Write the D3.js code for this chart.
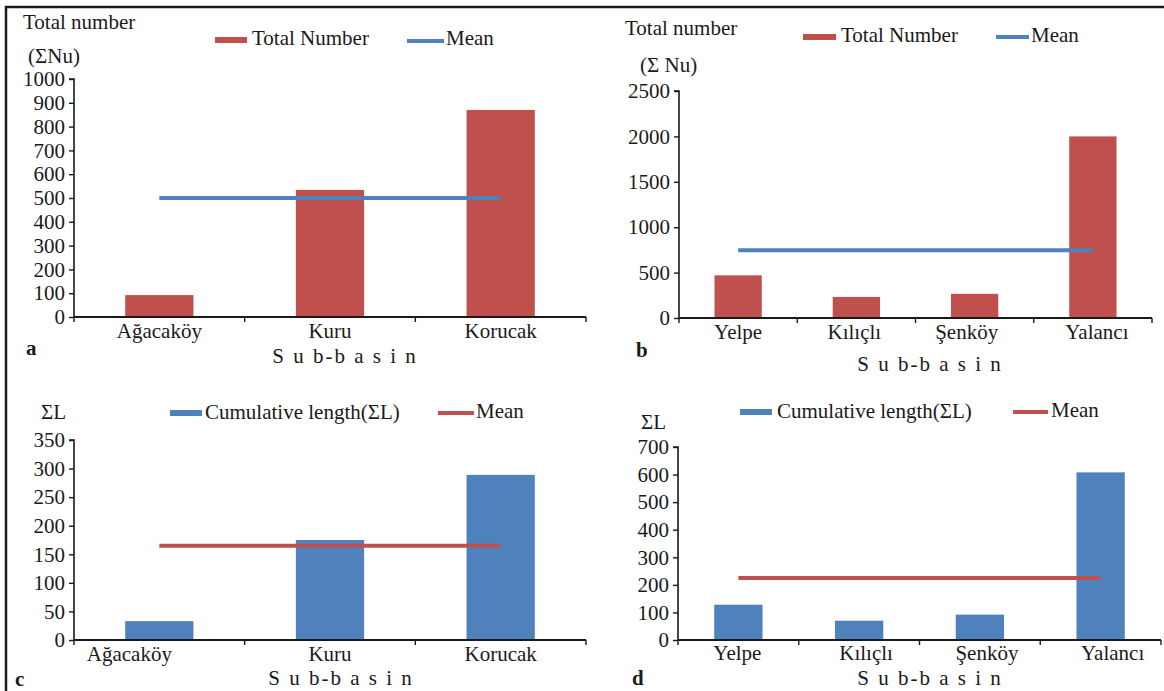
<!DOCTYPE html>
<html>
<head>
<meta charset="utf-8">
<script src="https://d3js.org/d3.v7.min.js"></script>
<style>
  body { margin: 0; background: #fff; }
  svg text { font-family: "Liberation Serif", serif; }
</style>
</head>
<body>
<div id="chart"></div>
<script>
// sub-basins
const basinsWest = ["Ağacaköy", "Kuru", "Korucak"];
const basinsEast = ["Yelpe", "Kılıçlı", "Şenköy", "Yalancı"];

// total number of streams (ΣNu) and mean
const totalNumberWest = [92, 534, 870];
const meanNumberWest = 500;
const totalNumberEast = [470, 232, 266, 2000];
const meanNumberEast = 745;

// cumulative length (ΣL) and mean
const lengthWest = [33, 175, 289];
const meanLengthWest = 165;
const lengthEast = [128, 70, 92, 608];
const meanLengthEast = 225;

// y tick labels
const ticksA = [0, 100, 200, 300, 400, 500, 600, 700, 800, 900, 1000];
const ticksB = [0, 500, 1000, 1500, 2000, 2500];
const ticksC = [0, 50, 100, 150, 200, 250, 300, 350];
const ticksD = [0, 100, 200, 300, 400, 500, 600, 700];

const W = 1164, H = 691;
const RED = "#C0504D", BLUE = "#4F81BD", INK = "#1a1a1a";
const FONT = "Liberation Serif";
const FS = 21;

const svg = d3.select("#chart").append("svg")
  .attr("width", W).attr("height", H)
  .attr("font-family", FONT);

// frame (top and left edges only, the rest is cropped)
svg.append("line").attr("x1", 5).attr("x2", W).attr("y1", 7).attr("y2", 7)
  .attr("stroke", INK).attr("stroke-width", 2.5);
svg.append("line").attr("x1", 6).attr("x2", 6).attr("y1", 6).attr("y2", H)
  .attr("stroke", INK).attr("stroke-width", 2.5);

const panels = [
  { cats: basinsWest, vals: totalNumberWest, mean: meanNumberWest, ticks: ticksA,
    x0: 74, x1: 586, yTop: 79, yBot: 317, bar: RED, line: BLUE,
    titles: [["Total number", 23, 29], ["(ΣNu)", 28, 63]],
    legend: { rect: [215, 247, 40], text: [252, 45, "Total Number"], line: [407, 444, 41], mean: [446, 45] },
    letter: ["a", 26, 355], sub: [345, 363], catY: 338, catShift: [0, 0, 0] },
  { cats: basinsEast, vals: totalNumberEast, mean: meanNumberEast, ticks: ticksB,
    x0: 679, x1: 1152, yTop: 91, yBot: 318, bar: RED, line: BLUE,
    titles: [["Total number", 625, 35], ["(Σ Nu)", 640, 72]],
    legend: { rect: [803, 836, 37], text: [841, 42, "Total Number"], line: [996, 1029, 37], mean: [1031, 42] },
    letter: ["b", 636, 357], sub: [930, 371], catY: 339, catShift: [0, -2, -8, 4] },
  { cats: basinsWest, vals: lengthWest, mean: meanLengthWest, ticks: ticksC,
    x0: 74, x1: 586, yTop: 440, yBot: 640, bar: BLUE, line: RED,
    titles: [["ΣL", 41, 419]],
    legend: { rect: [170, 202, 413], text: [205, 419, "Cumulative length(ΣL)"], line: [438, 474, 413], mean: [476, 418] },
    letter: ["c", 15, 686], sub: [341, 685], catY: 661, catShift: [-30, 0, 0] },
  { cats: basinsEast, vals: lengthEast, mean: meanLengthEast, ticks: ticksD,
    x0: 678, x1: 1161, yTop: 447, yBot: 640, bar: BLUE, line: RED,
    titles: [["ΣL", 641, 429]],
    legend: { rect: [740, 772, 412], text: [777, 418, "Cumulative length(ΣL)"], line: [1013, 1048, 412], mean: [1051, 417] },
    letter: ["d", 632, 685], sub: [930, 685], catY: 660, catShift: [-1, 7, 7, 12] }
];

panels.forEach(p => {
  const g = svg.append("g");

  const x = d3.scaleBand().domain(p.cats).range([p.x0, p.x1]).padding(0);
  const y = d3.scaleLinear().domain([0, d3.max(p.ticks)]).range([p.yBot, p.yTop]);
  const bw = x.bandwidth() * 0.4;

  // bars
  g.selectAll("rect.bar").data(p.cats).enter().append("rect")
    .attr("class", "bar")
    .attr("x", d => x(d) + (x.bandwidth() - bw) / 2)
    .attr("width", bw)
    .attr("y", (d, i) => y(p.vals[i]))
    .attr("height", (d, i) => y(0) - y(p.vals[i]))
    .attr("fill", p.bar);

  // mean line across category centres
  const meanLine = d3.line()
    .x(d => x(d) + x.bandwidth() / 2)
    .y(() => y(p.mean));
  g.append("path").datum(p.cats)
    .attr("d", meanLine)
    .attr("fill", "none")
    .attr("stroke", p.line)
    .attr("stroke-width", 4);

  // y axis
  const yAxis = g.append("g")
    .attr("transform", `translate(${p.x0},0)`)
    .call(d3.axisLeft(y).tickValues(p.ticks).tickSize(5).tickPadding(4).tickFormat(d3.format("d")));
  yAxis.attr("font-family", FONT).attr("font-size", FS);
  yAxis.select(".domain").attr("stroke", INK).attr("stroke-width", 1.6).attr("d", `M-5,${p.yTop}H0V${p.yBot}`);
  yAxis.selectAll(".tick line").attr("stroke", INK).attr("stroke-width", 1.4);
  yAxis.selectAll("text").attr("fill", INK);

  // x axis, ticks on category boundaries
  const xAxis = g.append("g").attr("transform", `translate(0,${p.yBot})`);
  xAxis.append("line").attr("x1", p.x0).attr("x2", p.x1)
    .attr("stroke", INK).attr("stroke-width", 1.8);
  const bounds = p.cats.map(d => x(d)).concat([x.range()[1]]);
  xAxis.selectAll("line.tick").data(bounds).enter().append("line")
    .attr("class", "tick")
    .attr("x1", d => d).attr("x2", d => d)
    .attr("y1", 0).attr("y2", 5)
    .attr("stroke", INK).attr("stroke-width", 1.4);
  g.selectAll("text.cat").data(p.cats).enter().append("text")
    .attr("class", "cat")
    .attr("x", (d, i) => x(d) + x.bandwidth() / 2 + p.catShift[i])
    .attr("y", p.catY)
    .attr("text-anchor", "middle")
    .attr("fill", INK)
    .text(d => d);

  // axis titles
  p.titles.forEach(t => {
    g.append("text").attr("x", t[1]).attr("y", t[2]).attr("fill", INK).text(t[0]);
  });

  g.append("text")
    .attr("x", p.sub[0]).attr("y", p.sub[1])
    .attr("text-anchor", "middle")
    .attr("letter-spacing", 2).attr("fill", INK)
    .text("S u b-b a s i n");

  g.append("text")
    .attr("x", p.letter[1]).attr("y", p.letter[2])
    .attr("font-weight", "bold").attr("fill", INK)
    .text(p.letter[0]);

  // legend
  const L = p.legend;
  g.append("rect")
    .attr("x", L.rect[0]).attr("y", L.rect[2] - 3)
    .attr("width", L.rect[1] - L.rect[0]).attr("height", 6)
    .attr("fill", p.bar);
  g.append("text").attr("x", L.text[0]).attr("y", L.text[1])
    .attr("fill", INK).text(L.text[2]);
  g.append("line")
    .attr("x1", L.line[0]).attr("x2", L.line[1])
    .attr("y1", L.line[2]).attr("y2", L.line[2])
    .attr("stroke", p.line).attr("stroke-width", 4);
  g.append("text").attr("x", L.mean[0]).attr("y", L.mean[1])
    .attr("fill", INK).text("Mean");
});

// same face and size on every label
svg.selectAll("text")
  .style("font-family", "'Liberation Serif', serif")
  .style("font-size", FS + "px");
</script>
</body>
</html>
